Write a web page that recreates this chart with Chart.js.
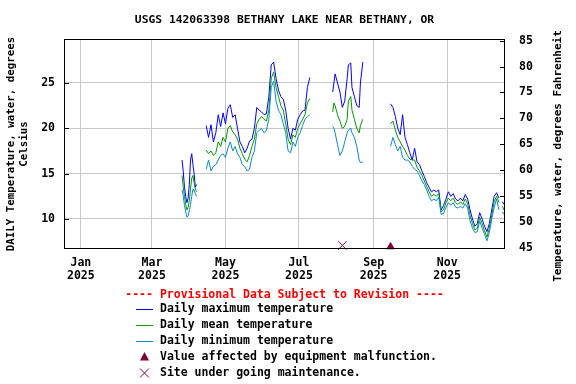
<!DOCTYPE html>
<html>
<head>
<meta charset="utf-8">
<script src="https://cdn.jsdelivr.net/npm/chart.js@4/dist/chart.umd.min.js"></script>
<style>
  html, body { margin: 0; padding: 0; background: #ffffff; }
  #wrap { width: 576px; height: 384px; position: relative; }
</style>
</head>
<body>
<div id="wrap"><canvas id="c" width="576" height="384"></canvas></div>
<script>
// ---------- Data (day offsets from 2025-01-01; null = gap in record) ----------
const titleText = 'USGS 142063398 BETHANY LAKE NEAR BETHANY, OR';
const monthTickDays = [0, 59, 120, 181, 243, 304];
const monthTickLabels = [['Jan', '2025'], ['Mar', '2025'], ['May', '2025'], ['Jul', '2025'], ['Sep', '2025'], ['Nov', '2025']];
const celsiusTicks = [10, 15, 20, 25];
const fahrenheitTicks = [45, 50, 55, 60, 65, 70, 75, 80, 85];

const days = [
  84, 85, 86, 87, 88, 89, 90, 91, 92, 93, 94, 95, 96,
  100,
  104, 106, 108, 110, 112, 114, 116, 118, 120, 122, 124, 126, 128, 130, 132, 134, 136, 138, 140, 142, 144, 146,
  148, 150, 152, 154, 156, 158, 160, 162, 164, 166, 168, 170, 172, 174, 176, 178, 180, 182, 184, 186, 188, 190,
  200,
  209, 210, 211, 213, 215, 217, 219, 221, 222, 224, 225, 227, 229, 231, 232, 234,
  245,
  257, 259, 261, 263, 265, 267, 269, 271, 273, 275, 277, 279, 281, 283, 285, 287, 289, 291, 293, 295, 297, 299,
  301, 303, 305, 307, 309, 311, 313, 315, 317, 319, 321, 323, 325, 327, 329, 331, 333, 335, 337, 339, 341, 343,
  345, 347, 349, 350, 351
];
const maxTemp = [
  16.5, 15.2, 13.5, 12.5, 11.8, 12.3, 13.8, 16.5, 17.2, 16.0, 15.0, 13.5, 13.8,
  null,
  20.3, 19.0, 20.4, 18.5, 19.5, 21.5, 20.2, 21.7, 20.5, 22.2, 22.6, 21.2, 21.5, 20.0, 18.5, 18.0, 17.3, 17.8, 18.6, 18.8, 20.0, 22.3,
  22.0, 21.8, 21.5, 21.6, 23.5, 27.0, 27.3, 25.5, 24.2, 23.5, 23.2, 22.0, 20.0, 18.8, 20.0, 19.8, 21.0, 21.5, 21.9, 22.0, 24.5, 25.6,
  null,
  24.0, 25.0, 26.0, 25.0, 24.0, 22.3, 23.0, 25.5, 27.0, 27.2, 24.5, 23.5, 22.5, 22.3, 25.0, 27.3,
  null,
  22.7, 22.3, 21.3, 20.0, 19.3, 21.5, 19.0, 18.2, 17.3, 16.5, 17.8, 16.3, 16.0, 15.3, 14.7, 14.0, 13.5, 13.0, 13.2, 13.0, 13.2, 11.0,
  11.5, 12.2, 13.0, 12.5, 12.8, 12.2, 12.0, 12.3, 12.0, 12.7, 12.2, 11.0, 10.0, 9.2, 9.5, 10.7, 10.0, 9.2, 8.6, 9.5, 11.0, 12.5,
  12.9, 12.3, null, 11.9, 11.6
];
const meanTemp = [
  14.8, 13.5, 12.5, 11.6, 11.0, 11.3, 12.0, 13.3, 14.5, 14.8, 14.0, 13.3, 13.0,
  null,
  17.6, 17.2, 17.5, 17.0, 17.3, 18.5, 18.0, 19.0, 18.5, 20.0, 20.3, 19.6, 19.3, 18.8, 17.8, 17.2, 16.6, 16.3, 17.0, 18.0, 18.8, 20.5,
  21.0, 21.3, 21.0, 20.8, 22.0, 25.5, 26.2, 24.5, 23.5, 22.5, 22.0, 20.5, 18.8, 18.2, 19.3, 19.0, 20.0, 20.5, 21.0, 21.5, 22.8, 23.3,
  null,
  21.8, 22.8, 22.5, 21.5, 20.8, 20.0, 20.2, 21.0, 23.0, 23.5, 22.0, 21.0, 20.0, 19.5, 20.3, 21.0,
  null,
  20.5, 20.8, 19.8, 19.0, 18.5, 18.0, 17.6, 17.0, 16.6, 16.5, 16.5, 15.7, 15.3, 14.8, 14.2, 13.6, 13.0, 12.5, 12.7, 12.5, 12.8, 10.8,
  11.0, 11.8, 12.3, 12.0, 12.3, 11.8, 11.6, 11.9, 11.6, 12.2, 11.7, 10.4, 9.5, 8.8, 9.0, 10.2, 9.5, 8.7, 8.0, 9.0, 10.4, 11.9,
  12.5, 11.8, null, 11.4, 11.0
];
const minTemp = [
  13.2, 12.5, 11.5, 10.8, 10.2, 10.3, 10.9, 11.6, 12.5, 13.3, 13.2, 12.8, 12.5,
  null,
  15.5, 16.5, 15.3, 15.8, 16.0, 16.5, 17.0, 17.2, 16.8, 17.8, 18.5, 17.5, 18.0, 17.2, 16.8, 16.0, 15.8, 15.3, 15.5, 16.8, 17.5, 19.5,
  19.8, 20.0, 19.5, 19.8, 21.0, 24.5, 25.2, 23.0, 22.0, 21.5, 20.5, 19.5, 17.5, 17.3, 18.5, 18.0, 19.0, 19.5, 20.3, 21.0, 21.3, 21.5,
  null,
  20.2, 20.0, 19.5, 18.2, 17.0, 17.5, 18.5, 19.5, 19.8, 20.0, 19.5, 19.0, 18.0, 16.5, 16.2, 16.3,
  null,
  18.0, 19.0, 18.2, 17.5, 18.0, 16.8, 16.5, 16.5, 16.3, 15.8, 15.5, 15.3, 14.8, 14.2, 13.8, 13.2, 12.5, 12.0, 12.2, 12.0, 12.4, 10.5,
  10.6, 11.3, 11.8, 11.5, 11.8, 11.3, 11.2, 11.4, 11.2, 11.7, 11.2, 9.8, 9.0, 8.5, 8.6, 9.8, 9.0, 8.3, 7.6, 8.5, 10.0, 11.3,
  12.2, 11.0, null, 10.8, 10.5
];
const malfunctionDays = [257];
const malfunctionValues = [6.95];
const maintenanceDays = [217];
const maintenanceValues = [7.08];

// ---------- Styling ----------
const FONT = '"DejaVu Sans Mono", "Liberation Mono", monospace';
const C_MAX = '#0000ff', C_MEAN = '#009900', C_MIN = '#0a88d0', C_MARK = '#800040';
const GRID = '#c8c8c8';

function pts(xs, ys) { return xs.map((x, i) => ({ x: x, y: ys[i] })); }

const overlay = {
  id: 'overlay',
  afterDraw(chart) {
    const ctx = chart.ctx, a = chart.chartArea;
    const yS = chart.scales.y, yR = chart.scales.yF;
    ctx.save();
    // frame
    ctx.strokeStyle = '#000'; ctx.lineWidth = 1;
    ctx.strokeRect(Math.round(a.left) + 0.5, Math.round(a.top) + 0.5, Math.round(a.right - a.left) - 1, Math.round(a.bottom - a.top) - 1);
    // inward ticks
    ctx.beginPath();
    celsiusTicks.forEach(v => { const y = Math.round(yS.getPixelForValue(v)) + 0.5; ctx.moveTo(a.left, y); ctx.lineTo(a.left + 5, y); });
    fahrenheitTicks.forEach(v => { const y = Math.round(yR.getPixelForValue(v)) + 0.5; ctx.moveTo(a.right, y); ctx.lineTo(a.right - 5, y); });
    ctx.stroke();
    // title
    ctx.fillStyle = '#000';
    ctx.font = 'bold 11.3px ' + FONT;
    ctx.textAlign = 'center'; ctx.textBaseline = 'middle';
    ctx.fillText(titleText, (a.left + a.right) / 2, 20);
    // left axis title
    ctx.save();
    ctx.font = 'bold 10.8px ' + FONT;
    ctx.translate(11, (a.top + a.bottom) / 2);
    ctx.rotate(-Math.PI / 2);
    ctx.fillText('DAILY Temperature, water, degrees', 0, 0);
    ctx.fillText('Celsius', 0, 13);
    ctx.restore();
    // right axis title
    ctx.save();
    ctx.font = 'bold 11px ' + FONT;
    ctx.translate(558.5, 156);
    ctx.rotate(-Math.PI / 2);
    ctx.fillText('Temperature, water, degrees Fahrenheit', 0, 0);
    ctx.restore();
    // legend
    ctx.font = 'bold 11.5px ' + FONT;
    ctx.fillStyle = '#ff0000';
    ctx.fillText('---- Provisional Data Subject to Revision ----', (a.left + a.right) / 2, 295);
    ctx.textAlign = 'left';
    ctx.fillStyle = '#000';
    const items = [
      ['line', C_MAX, 'Daily maximum temperature', 309],
      ['line', C_MEAN, 'Daily mean temperature', 325],
      ['line', C_MIN, 'Daily minimum temperature', 341],
      ['tri', C_MARK, 'Value affected by equipment malfunction.', 357],
      ['x', C_MARK, 'Site under going maintenance.', 373]
    ];
    items.forEach(([kind, col, label, y]) => {
      ctx.strokeStyle = col; ctx.fillStyle = col; ctx.lineWidth = 1;
      if (kind === 'line') {
        ctx.beginPath(); ctx.moveTo(136, y + 0.5); ctx.lineTo(153, y + 0.5); ctx.stroke();
      } else if (kind === 'tri') {
        ctx.beginPath(); ctx.moveTo(144.5, y - 5); ctx.lineTo(149, y + 3.5); ctx.lineTo(140, y + 3.5); ctx.closePath(); ctx.fill();
      } else {
        ctx.beginPath(); ctx.moveTo(140, y - 4.5); ctx.lineTo(149, y + 4.5); ctx.moveTo(149, y - 4.5); ctx.lineTo(140, y + 4.5); ctx.stroke();
      }
      ctx.fillStyle = '#000';
      ctx.fillText(label, 160, y);
    });
    ctx.restore();
  }
};

const tickFont = { family: FONT, size: 11.5, weight: 'bold', lineHeight: 1.15 };

new Chart(document.getElementById('c'), {
  type: 'line',
  data: {
    datasets: [
      { label: 'Value affected by equipment malfunction.', data: pts(malfunctionDays, malfunctionValues), showLine: false,
        pointStyle: 'triangle', pointRadius: 5, backgroundColor: C_MARK, borderColor: C_MARK, borderWidth: 0, order: 0, clip: false },
      { label: 'Site under going maintenance.', data: pts(maintenanceDays, maintenanceValues), showLine: false,
        pointStyle: 'crossRot', pointRadius: 6, borderColor: C_MARK, borderWidth: 1, order: 0, clip: false },
      { label: 'Daily minimum temperature', data: pts(days, minTemp), borderColor: C_MIN, borderWidth: 1, pointRadius: 0, spanGaps: false, order: 1 },
      { label: 'Daily mean temperature', data: pts(days, meanTemp), borderColor: C_MEAN, borderWidth: 1, pointRadius: 0, spanGaps: false, order: 2 },
      { label: 'Daily maximum temperature', data: pts(days, maxTemp), borderColor: C_MAX, borderWidth: 1, pointRadius: 0, spanGaps: false, order: 3 }
    ]
  },
  options: {
    responsive: false,
    animation: false,
    devicePixelRatio: 1,
    layout: { padding: { top: 39, left: 0, right: 0, bottom: 0 } },
    plugins: { legend: { display: false }, title: { display: false }, tooltip: { enabled: false } },
    elements: { line: { tension: 0 } },
    scales: {
      x: {
        type: 'linear', min: -14, max: 352,
        afterBuildTicks: s => { s.ticks = monthTickDays.map(v => ({ value: v })); },
        afterFit: s => { s.height = 135; },
        ticks: {
          autoSkip: false, maxRotation: 0, padding: 7, color: '#000', font: tickFont,
          callback: (v) => { const i = monthTickDays.indexOf(v); return i >= 0 ? monthTickLabels[i] : ''; }
        },
        grid: { color: GRID, lineWidth: 1, drawTicks: false },
        border: { display: false }
      },
      y: {
        type: 'linear', position: 'left', min: 6.69, max: 29.85,
        afterBuildTicks: s => { s.ticks = celsiusTicks.map(v => ({ value: v })); },
        afterFit: s => { s.width = 64; },
        ticks: { padding: 9, color: '#000', font: tickFont },
        grid: { color: GRID, lineWidth: 1, drawTicks: false },
        border: { display: false }
      },
      yF: {
        type: 'linear', position: 'right', min: 44.75, max: 85.33,
        afterBuildTicks: s => { s.ticks = fahrenheitTicks.map(v => ({ value: v })); },
        afterFit: s => { s.width = 71; },
        ticks: { padding: 14, color: '#000', font: tickFont },
        grid: { display: false, drawTicks: false },
        border: { display: false }
      }
    }
  },
  plugins: [overlay]
});
</script>
</body>
</html>
